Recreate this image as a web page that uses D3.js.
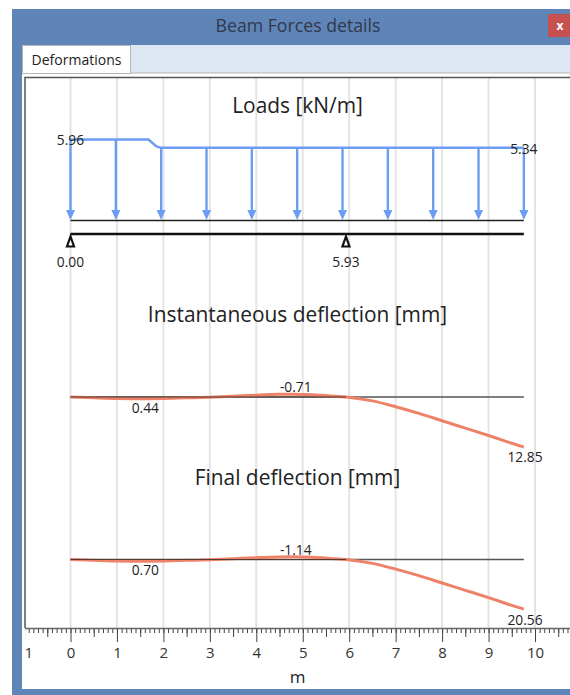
<!DOCTYPE html>
<html>
<head>
<meta charset="utf-8">
<title>Beam Forces details</title>
<style>
    html, body { margin: 0; padding: 0; background: #fff; overflow: hidden; }
    svg { display: block; }
    text { font-family: "Open Sans", "Noto Sans", sans-serif; fill: #222; }
    .axis path { display: none; }
    .axis line { stroke: #444; }
    .axis text { font-size: 15px; fill: #333; }
</style>
<script src="https://cdn.jsdelivr.net/npm/d3@7"></script>
</head>
<body>
<script>
    var width = 570, height = 695;

    var axisTicks = [-1, 0, 1, 2, 3, 4, 5, 6, 7, 8, 9, 10];
    var beamLength = 9.76;
    var loadStations = [0, 0.976, 1.952, 2.928, 3.904, 4.88, 5.856, 6.832, 7.808, 8.784, 9.76];
    var loadX = [0, 1.68, 1.85, 1.95, 9.76];
    var loadValues = [5.96, 5.96, 5.45, 5.34, 5.34];
    var loadEnds = [5.96, 5.34];
    var supports = [0, 5.93];

    var deflX = [0, 0.5, 1, 1.5, 2, 2.5, 3, 3.5, 4, 4.5, 4.8, 5.2, 5.6, 5.93, 6.5, 7, 7.5, 8, 8.5, 9, 9.5, 9.76];
    var instValues = [0, 0.22, 0.4, 0.44, 0.36, 0.22, 0.05, -0.2, -0.48, -0.68, -0.71, -0.6, -0.28, 0, 1, 2.5, 4.2, 6.1, 8, 9.9, 11.9, 12.85];
    var finalValues = [0, 0.35, 0.64, 0.7, 0.58, 0.35, 0.08, -0.32, -0.77, -1.09, -1.14, -0.96, -0.45, 0, 1.6, 4, 6.72, 9.76, 12.8, 15.84, 19.04, 20.56];

    var x = d3.scaleLinear().domain([0, 10]).range([70.5, 535]);
    var yLoad = d3.scaleLinear().domain([0, 5.96]).range([220, 139.5]);
    var yInst = d3.scaleLinear().domain([0, 12.85]).range([397, 447]);
    var yFinal = d3.scaleLinear().domain([0, 20.56]).range([559.5, 609]);

    var svg = d3.select('body').append('svg')
        .attr('width', width)
        .attr('height', height);

    // window frame
    svg.append('rect').attr('x', 12).attr('y', 9).attr('width', 558).attr('height', 686).attr('fill', '#5f84b8');
    svg.append('rect').attr('x', 22).attr('y', 45).attr('width', 548).attr('height', 644).attr('fill', '#fff');
    svg.append('rect').attr('x', 22).attr('y', 45).attr('width', 548).attr('height', 28).attr('fill', '#dde7f3');
    svg.append('line').attr('x1', 22).attr('x2', 570).attr('y1', 73).attr('y2', 73).attr('stroke', '#b5b5b5');
    svg.append('rect').attr('x', 22.5).attr('y', 45.5).attr('width', 108).attr('height', 28)
        .attr('fill', '#fff').attr('stroke', '#b5b5b5');
    svg.append('rect').attr('x', 548).attr('y', 14).attr('width', 22).attr('height', 23).attr('fill', '#c75050');

    svg.append('text').attr('x', 298).attr('y', 32).attr('text-anchor', 'middle')
        .style('font-size', '17.7px').style('fill', '#30394a').text('Beam Forces details');
    svg.append('text').attr('x', 560).attr('y', 30).attr('text-anchor', 'middle')
        .style('font-size', '12px').style('font-weight', 'bold').style('fill', '#fff').text('x');
    svg.append('text').attr('x', 76.5).attr('y', 65).attr('text-anchor', 'middle')
        .style('font-size', '14px').text('Deformations');

    // grid
    svg.append('g').selectAll('line')
        .data(axisTicks.slice(1))
        .enter().append('line')
        .attr('x1', function(d){ return x(d); })
        .attr('x2', function(d){ return x(d); })
        .attr('y1', 78)
        .attr('y2', 628)
        .attr('stroke', '#e4e4e4')
        .attr('stroke-width', 2);

    // plot border
    svg.append('path').attr('d', 'M25,628V77.5H570').attr('fill', 'none').attr('stroke', '#555').attr('stroke-width', 1.5);
    svg.append('line').attr('x1', 25).attr('x2', 570).attr('y1', 628.5).attr('y2', 628.5).attr('stroke', '#666').attr('stroke-width', 1.5);

    // ruler along the bottom
    svg.append('clipPath').attr('id', 'rulerClip').append('rect')
        .attr('x', 25).attr('y', 620).attr('width', 545).attr('height', 60);

    var minorTicks = d3.range(-10, 108).map(function(d){ return d / 10; });
    var midTicks = d3.range(-1, 11).map(function(d){ return d + 0.5; });

    var ruler = svg.append('g').attr('clip-path', 'url(#rulerClip)');
    ruler.append('g').attr('class', 'axis')
        .attr('transform', 'translate(0,629)')
        .call(d3.axisBottom(x).tickValues(minorTicks).tickSize(4).tickFormat(''));
    ruler.append('g').attr('class', 'axis')
        .attr('transform', 'translate(0,629)')
        .call(d3.axisBottom(x).tickValues(midTicks).tickSize(8).tickFormat(''));
    ruler.append('g').attr('class', 'axis')
        .attr('transform', 'translate(0,629)')
        .call(d3.axisBottom(x).tickValues(axisTicks).tickSize(13).tickPadding(5).tickFormat(d3.format('d')));

    svg.append('text').attr('x', 297.5).attr('y', 683).attr('text-anchor', 'middle')
        .style('font-size', '17px').text('m');

    function title(label, y) {
        svg.append('text').attr('x', 297.5).attr('y', y).attr('text-anchor', 'middle')
            .style('font-size', '20.9px').text(label);
    }
    function note(label, xPos, y) {
        svg.append('text').attr('x', xPos).attr('y', y).attr('text-anchor', 'middle')
            .style('font-size', '13.8px').text(label);
    }

    // loads
    title('Loads [kN/m]', 113);

    svg.append('line').attr('x1', x(0)).attr('x2', x(beamLength))
        .attr('y1', yLoad(0) + 0.5).attr('y2', yLoad(0) + 0.5)
        .attr('stroke', '#222').attr('stroke-width', 1.3);

    var loadLine = d3.line()
        .x(function(d, i){ return x(loadX[i]); })
        .y(function(d){ return yLoad(d); });

    svg.append('path').datum(loadValues)
        .attr('d', loadLine)
        .attr('fill', 'none')
        .attr('stroke', '#6b9df2')
        .attr('stroke-width', 2.5);

    // value of the load under each arrow
    function loadAt(s) {
        return s < 1.85 ? loadEnds[0] : loadEnds[1];
    }

    var arrows = svg.append('g').selectAll('g')
        .data(loadStations)
        .enter().append('g')
        .attr('transform', function(d){ return 'translate(' + x(d) + ',0)'; });
    arrows.append('line')
        .attr('y1', function(d){ return yLoad(loadAt(d)); })
        .attr('y2', yLoad(0) - 6)
        .attr('stroke', '#6b9df2')
        .attr('stroke-width', 2.4);
    arrows.append('path')
        .attr('transform', 'translate(0,' + yLoad(0) + ')')
        .attr('d', 'M0,0L-4.5,-10H4.5Z')
        .attr('fill', '#6b9df2');

    note('5.96', x(0), 145);
    note('5.34', x(beamLength), 153.5);

    // beam and supports
    svg.append('line').attr('x1', x(0)).attr('x2', x(beamLength))
        .attr('y1', 234).attr('y2', 234)
        .attr('stroke', '#111').attr('stroke-width', 2.4);

    var sup = svg.append('g').selectAll('g')
        .data(supports)
        .enter().append('g')
        .attr('transform', function(d){ return 'translate(' + x(d) + ',0)'; });
    sup.append('path')
        .attr('d', 'M0,236.5L-3.5,246.5H3.5Z')
        .attr('fill', '#fff')
        .attr('stroke', '#111')
        .attr('stroke-width', 2.2);
    sup.append('text')
        .attr('y', 267)
        .attr('text-anchor', 'middle')
        .style('font-size', '13.8px')
        .text(function(d){ return d.toFixed(2); });

    function deflection(values, y) {
        svg.append('line').attr('x1', x(0)).attr('x2', x(beamLength))
            .attr('y1', y(0)).attr('y2', y(0))
            .attr('stroke', '#555').attr('stroke-width', 1.5);
        svg.append('path').datum(values)
            .attr('d', d3.line()
                .x(function(d, i){ return x(deflX[i]); })
                .y(function(d){ return y(d); })
                .curve(d3.curveMonotoneX))
            .attr('fill', 'none')
            .attr('stroke', '#ee8268')
            .attr('stroke-width', 3);
        // beam axis stays on top on the flat part, as in the original
        svg.append('line').attr('x1', x(0)).attr('x2', x(5.93))
            .attr('y1', y(0)).attr('y2', y(0))
            .attr('stroke', '#553a33').attr('stroke-width', 1);
    }

    // instantaneous deflection
    title('Instantaneous deflection [mm]', 322);
    deflection(instValues, yInst);
    note('0.44', x(1.61), 413);
    note('-0.71', x(4.85), 392);
    note('12.85', 525, 462);

    // final deflection
    title('Final deflection [mm]', 485);
    deflection(finalValues, yFinal);
    note('0.70', x(1.61), 575);
    note('-1.14', x(4.85), 555);
    note('20.56', 525, 625);
</script>
</body>
</html>
